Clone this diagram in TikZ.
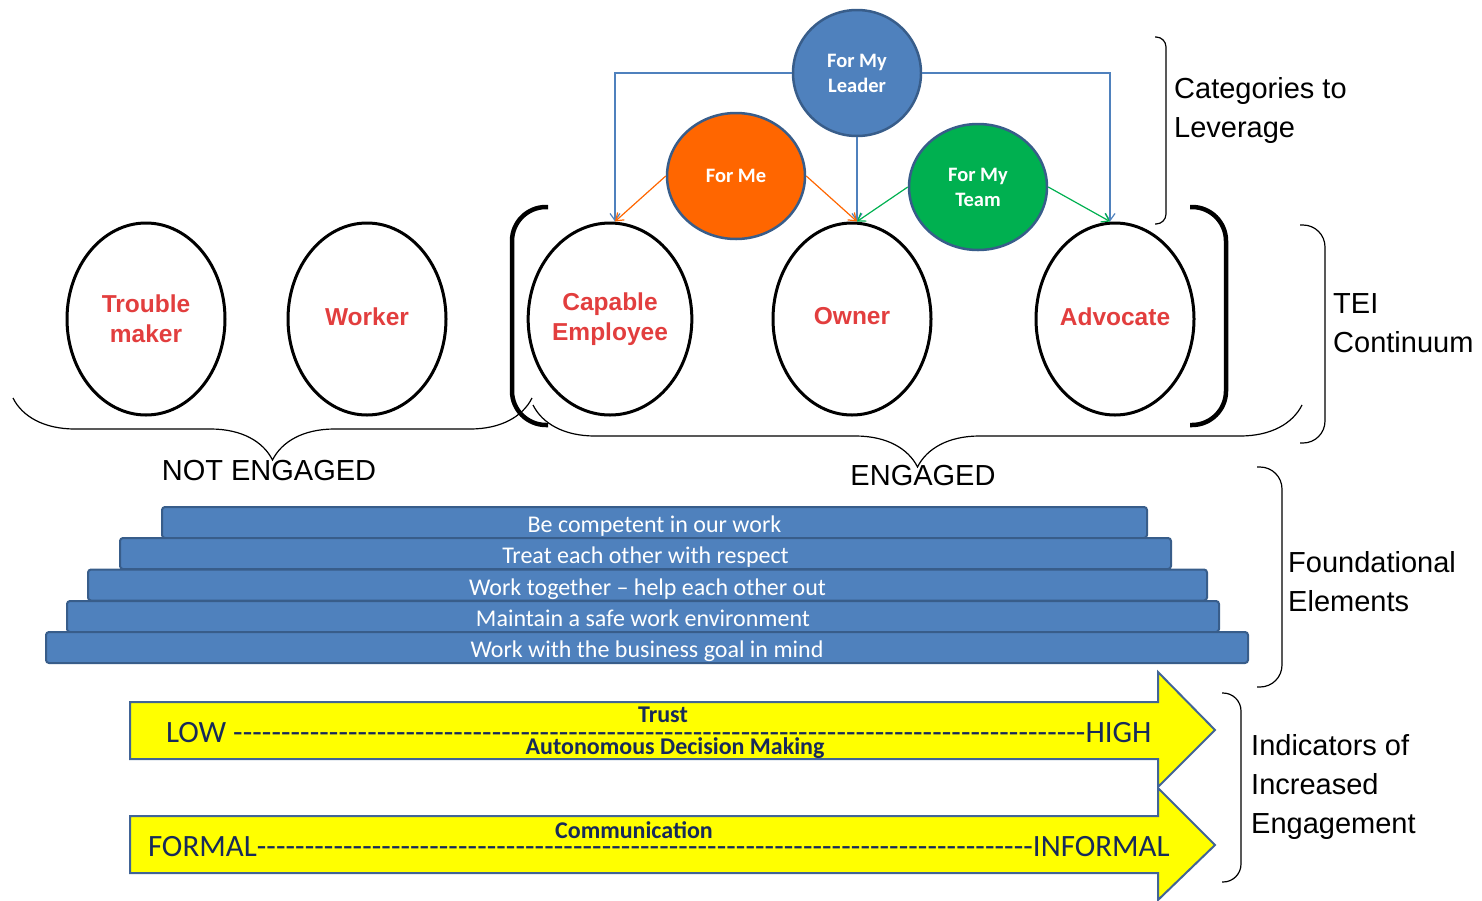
\documentclass[tikz,border=0pt]{standalone}
\usepackage{fontspec}
\setmainfont{Liberation Sans}
\newfontfamily\calibri{Carlito}
\usetikzlibrary{shapes,arrows.meta,positioning,decorations.pathreplacing}

\definecolor{ppblue}{RGB}{79,129,189}
\definecolor{ppborder}{RGB}{56,93,138}
\definecolor{pporange}{RGB}{255,102,0}
\definecolor{ppgreen}{RGB}{0,176,80}
\definecolor{wordred}{RGB}{226,62,62}
\definecolor{navy}{RGB}{23,42,90}
\definecolor{ppyellow}{RGB}{255,255,0}
\definecolor{arrowedge}{RGB}{65,100,150}

\begin{document}
\begin{tikzpicture}[x=1pt, y=-1pt,
    stage/.style={ellipse, draw=black, line width=3pt, minimum width=158pt, minimum height=192pt, inner sep=0pt, align=center, text=wordred, font=\fontsize{24.5}{30}\selectfont\bfseries},
    reason/.style={ellipse, draw=ppborder, line width=2.5pt, minimum width=138pt, minimum height=126pt, inner sep=0pt, align=center, text=white, font=\calibri\fontsize{20.5}{25}\selectfont\bfseries},
    link/.style={line width=1.2pt, -{Straight Barb[length=7pt,width=10pt]}},
    layer/.style={rectangle, rounded corners=3pt, draw=ppborder, line width=2pt, fill=ppblue, minimum height=31pt, inner sep=0pt, text height=20pt, text depth=0pt, text=white, font=\calibri\fontsize{24}{28}\selectfont},
    yarrow/.style={draw=arrowedge, line width=2pt, fill=ppyellow},
    scaletext/.style={inner sep=0pt, text=navy, font=\calibri\fontsize{31}{32}\selectfont},
    indicator/.style={inner sep=0pt, text=navy, font=\calibri\bfseries\fontsize{24}{26}\selectfont},
    curly/.style={decorate, decoration={brace, amplitude=#1}, line width=1.2pt},
    sidebrk/.style={line width=1.2pt, rounded corners=#1},
    bigbrk/.style={line width=4.5pt, rounded corners=34pt},
    side/.style={anchor=west, align=left, inner sep=0pt, font=\fontsize{29}{39}\selectfont},
    group/.style={inner sep=0pt, font=\fontsize{29}{35}\selectfont}
]
\useasboundingbox (0,0) rectangle (1482,900);

% TEI continuum
\node[stage] (trouble) at (146,319) {Trouble\\maker};
\node[stage] (worker) at (367,319) {\raisebox{4pt}{Worker}};
\node[stage] (capable) at (610,319) {Capable\\Employee};
\node[stage] (owner) at (852,319) {\raisebox{6pt}{Owner}};
\node[stage] (advocate) at (1115,319) {\raisebox{4pt}{Advocate}};

% Categories to leverage
\node[reason, fill=ppblue, minimum width=128pt] (leader) at (857,73) {For My\\Leader};
\node[reason, fill=pporange] (forme) at (736,176) {For Me};
\node[reason, fill=ppgreen] (team) at (978,187) {For My\\Team};

% Links
\draw[link, ppblue] (leader.west) -| ([xshift=5pt]capable.north);
\draw[link, ppblue] (leader.east) -| ([xshift=-5pt]advocate.north);
\draw[link, ppblue] (leader.south) -- (leader.south |- owner.north);
\draw[link, pporange] (forme.west) -- ([xshift=5pt]capable.north);
\draw[link, pporange] (forme.east) -- ([xshift=5pt]owner.north);
\draw[link, ppgreen] (team.west) -- ([xshift=5pt]owner.north);
\draw[link, ppgreen] (team.east) -- ([xshift=-5pt]advocate.north);

% Engaged bracket
\draw[bigbrk] (548,207) -- (512,207) -- (512,425) -- (548,425);
\draw[bigbrk] (1190,207) -- (1226,207) -- (1226,425) -- (1190,425);

% Groups
\draw[curly=62pt] (532,398) -- (13,398);
\node[group] (noteng) at (269,471) {NOT ENGAGED};
\draw[curly=62pt] (1302,405) -- (533,405);
\node[group] (eng) at (923,476) {ENGAGED};

% Foundational elements
\node[layer, minimum width=985pt] (bar1) at (654.5,522.5) {Be competent in our work};
\node[layer, minimum width=1051pt] (bar2) at (645.5,553.5) {Treat each other with respect};
\node[layer, minimum width=1119pt] (bar3) at (647.5,585) {Work together – help each other out};
\node[layer, minimum width=1152pt] (bar4) at (643,616.5) {Maintain a safe work environment};
\node[layer, minimum width=1202pt] (bar5) at (647,647.5) {Work with the business goal in mind};

% Indicators
\draw[yarrow] (130,702) -- (1158,702) -- (1158,672) -- (1215,730) -- (1158,787) -- (1158,759) -- (130,759) -- cycle;
\node[scaletext] (lowhigh) at (659,733) {\hbox to 986pt{LOW \xleaders\hbox{-}\hfill HIGH}};
\node[indicator] (trust) at (663,715) {Trust};
\node[indicator] (autonomy) at (675,748) {Autonomous Decision Making};

\draw[yarrow] (130,816) -- (1158,816) -- (1158,788) -- (1215,845) -- (1158,900) -- (1158,873) -- (130,873) -- cycle;
\node[scaletext] (formal) at (659,847) {\hbox to 1022pt{FORMAL\xleaders\hbox{-}\hfill INFORMAL}};
\node[indicator] (comm) at (634,830) {Communication};

% Side brackets
\draw[sidebrk=10pt] (1155,37) -- (1166,37) -- (1166,224) -- (1155,224);
\node[side] (catlabel) at (1174,110) {Categories to\\Leverage};
\draw[sidebrk=22pt] (1300,225) -- (1325,225) -- (1325,443) -- (1300,443);
\node[side] (teilabel) at (1333,323) {TEI\\Continuum};
\draw[sidebrk=22pt] (1257,467) -- (1282,467) -- (1282,687) -- (1257,687);
\node[side] (foundlabel) at (1288,582) {Foundational\\Elements};
\draw[sidebrk=18pt] (1222,693) -- (1241,693) -- (1241,882) -- (1222,882);
\node[side] (indlabel) at (1251,787) {Indicators of\\Increased\\Engagement};

\end{tikzpicture}
\end{document}
